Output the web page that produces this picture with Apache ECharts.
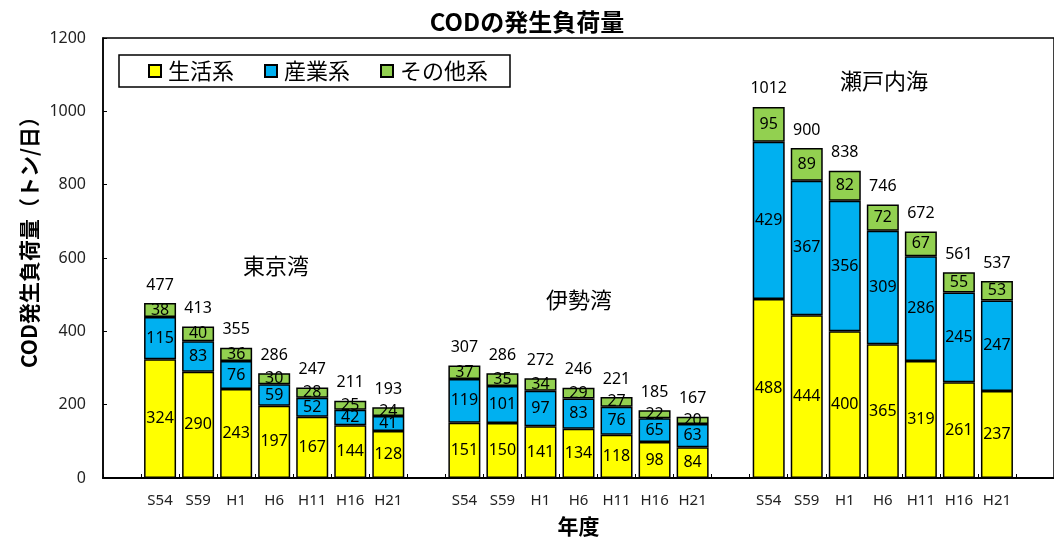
<!DOCTYPE html>
<html lang="ja">
<head>
  <meta charset="UTF-8">
  <title>CODの発生負荷量</title>
  <style>
    html, body { margin: 0; padding: 0; background: #fff; }
    #myEcharts { width: 1054px; height: 543px; }
  </style>
  <script src="https://cdn.jsdelivr.net/npm/echarts@6/dist/echarts.min.js"></script>
</head>
<body>
  <div id="myEcharts"></div>
  <script>
    // 年度ラベル
    var years = ['S54', 'S59', 'H1', 'H6', 'H11', 'H16', 'H21'];
    var areas = ['東京湾', '伊勢湾', '瀬戸内海'];

    // 東京湾
    var tokyoLife = [324, 290, 243, 197, 167, 144, 128];
    var tokyoInd = [115, 83, 76, 59, 52, 42, 41];
    var tokyoOther = [38, 40, 36, 30, 28, 25, 24];
    var tokyoTotal = [477, 413, 355, 286, 247, 211, 193];
    // 伊勢湾
    var iseLife = [151, 150, 141, 134, 118, 98, 84];
    var iseInd = [119, 101, 97, 83, 76, 65, 63];
    var iseOther = [37, 35, 34, 29, 27, 22, 20];
    var iseTotal = [307, 286, 272, 246, 221, 185, 167];
    // 瀬戸内海
    var setoLife = [488, 444, 400, 365, 319, 261, 237];
    var setoInd = [429, 367, 356, 309, 286, 245, 247];
    var setoOther = [95, 89, 82, 72, 67, 55, 53];
    var setoTotal = [1012, 900, 838, 746, 672, 561, 537];

    // 海域の間に空のカテゴリを挟む
    function join(a, b, c, blank) {
      return [blank].concat(a, [blank], b, [blank], c, [blank]);
    }
    var categories = join(years, years, years, '');
    var lifeData = join(tokyoLife, iseLife, setoLife, '-');
    var indData = join(tokyoInd, iseInd, setoInd, '-');
    var otherData = join(tokyoOther, iseOther, setoOther, '-');
    var totalData = join(tokyoTotal, iseTotal, setoTotal, '-');

    var numFont = 'Noto Sans';
    var jpFont = 'Noto Sans CJK JP';

    var myChart = echarts.init(document.getElementById('myEcharts'));

    function stackSeries(name, data, color) {
      return {
        name: name,
        type: 'bar',
        stack: 'cod',
        barWidth: 32,
        data: data,
        itemStyle: { color: color, borderColor: '#000', borderWidth: 1.5 },
        label: {
          show: true,
          position: 'inside',
          color: '#000',
          fontFamily: numFont,
          fontSize: 16
        },
        emphasis: { disabled: true }
      };
    }

    var option = {
      animation: false,
      title: {
        text: 'CODの発生負荷量',
        left: 'center',
        top: 5,
        textStyle: { fontFamily: jpFont, fontWeight: 'bold', fontSize: 24, color: '#000' }
      },
      legend: {
        data: ['生活系', '産業系', 'その他系'],
        left: 119,
        top: 55,
        padding: [5, 22, 5, 29],
        itemGap: 30,
        itemWidth: 12,
        itemHeight: 12,
        icon: 'rect',
        borderColor: '#000',
        borderWidth: 1.5,
        textStyle: { fontFamily: jpFont, fontSize: 22, color: '#000', padding: [0, 0, 0, 2] }
      },
      grid: {
        left: 103,
        top: 38,
        width: 958,
        height: 440,
        show: true,
        borderColor: '#000',
        borderWidth: 1.5,
        backgroundColor: 'transparent'
      },
      xAxis: {
        type: 'category',
        data: categories,
        name: '年度',
        nameLocation: 'middle',
        nameGap: 38,
        nameTextStyle: { fontFamily: jpFont, fontWeight: 'bold', fontSize: 21, color: '#000' },
        axisLine: { lineStyle: { color: '#000', width: 2 } },
        axisTick: { show: true, inside: true, length: 4, interval: 0, lineStyle: { color: '#000' } },
        axisLabel: { interval: 0, margin: 15, fontFamily: numFont, fontSize: 15, color: '#222' }
      },
      yAxis: {
        type: 'value',
        min: 0,
        max: 1200,
        interval: 200,
        axisLine: { show: true, lineStyle: { color: '#000', width: 1.5 } },
        axisTick: { show: true, inside: true, length: 4, lineStyle: { color: '#000' } },
        splitLine: { show: false },
        axisLabel: {
          margin: 17,
          fontFamily: numFont,
          fontSize: 16,
          color: '#222',
          formatter: function (v) { return String(v); }
        }
      },
      graphic: [
        {
          type: 'text',
          x: 29,
          y: 237,
          rotation: Math.PI / 2,
          style: {
            text: 'COD発生負荷量（トン/日）',
            font: 'bold 21px "Noto Sans CJK JP"',
            fill: '#000',
            align: 'center',
            verticalAlign: 'middle'
          }
        },
        { type: 'text', left: 243, top: 255, style: { text: areas[0], font: '22px "Noto Sans CJK JP"', fill: '#000' } },
        { type: 'text', left: 546, top: 289, style: { text: areas[1], font: '22px "Noto Sans CJK JP"', fill: '#000' } },
        { type: 'text', left: 840, top: 70, style: { text: areas[2], font: '22px "Noto Sans CJK JP"', fill: '#000' } }
      ],
      series: [
        stackSeries('生活系', lifeData, '#FFFF00'),
        stackSeries('産業系', indData, '#00B0F0'),
        stackSeries('その他系', otherData, '#92D050'),
        {
          name: '合計',
          type: 'bar',
          barWidth: 32,
          barGap: '-100%',
          data: totalData,
          itemStyle: { color: 'rgba(0,0,0,0)' },
          label: {
            show: true,
            position: 'top',
            distance: 10,
            color: '#000',
            fontFamily: numFont,
            fontSize: 16
          },
          emphasis: { disabled: true },
          z: 1
        }
      ]
    };
    myChart.setOption(option);
  </script>
</body>
</html>
